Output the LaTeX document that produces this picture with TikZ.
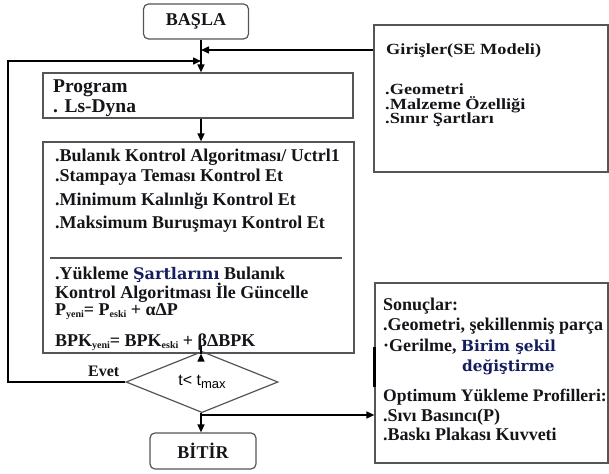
\documentclass[tikz,border=0pt]{standalone}
\usepackage{fontspec}
\setmainfont{Liberation Serif}
\setsansfont{Liberation Sans}
\newfontfamily\gfont[FakeStretch=1.18]{Liberation Serif}
\newfontfamily\cfont{DejaVu Serif}
\usetikzlibrary{arrows.meta,shapes.geometric}
\newcommand\fsz[1]{\fontsize{#1}{#1}\selectfont}
\newcommand\sbs[1]{\raisebox{-2.5pt}{\fsz{10}#1}}
\definecolor{boxgray}{RGB}{85,85,85}
\definecolor{navy}{RGB}{20,30,95}
\definecolor{inktext}{RGB}{20,20,25}
\begin{document}
\begin{tikzpicture}[x=1pt,y=-1pt,
  box/.style={draw=boxgray, line width=1.2pt, inner sep=0pt},
  rbox/.style={box, rounded corners=5pt, font=\bfseries\fsz{18}, text=inktext},
  conn/.style={draw=black, line width=1.5pt, -{Triangle[length=8pt,width=7pt]}},
  plain/.style={draw=black, line width=1.5pt},
  txt/.style={anchor=base west, inner sep=0pt, font=\bfseries\fsz{18}, text=inktext},
  gtxt/.style={anchor=base west, inner sep=0pt, font=\gfont\bfseries\fsz{15.5}, text=inktext}]
\useasboundingbox (0,0) rectangle (609,473);

% boxes
\node[rbox, minimum width=105pt, minimum height=35pt] (basla) at (196,21.5) {BAŞLA};
\node[box, minimum width=310pt, minimum height=45pt] (prog) at (198,95.5) {};
\node[box, minimum width=311pt, minimum height=211pt] (main) at (198.5,247.5) {};
\node[box, diamond, draw=boxgray, minimum width=152pt, minimum height=38pt, font=\sffamily\fsz{16}] (dec) at (202,382) {t< t\raisebox{-3.5pt}{\fsz{13}max}};
\node[rbox, minimum width=106pt, minimum height=36pt] (bitir) at (203,451) {BİTİR};
\node[box, minimum width=234pt, minimum height=147pt] (gir) at (491,98.5) {};
\node[box, minimum width=233pt, minimum height=180pt] (son) at (491.5,373) {};
\draw[draw=black, line width=2.4pt] ([yshift=-65pt]son.north west) -- ([yshift=-105pt]son.north west);

% junction coordinates
\coordinate (j1) at (201,50);
\coordinate (j2) at (201,61);
\coordinate (lp) at (8,61);
\coordinate (j3) at (201,415);
\coordinate (trunk) at (201,0);

% connectors
\draw[plain] (basla.south -| trunk) -- (j2);
\draw[conn] (j2) -- (prog.north -| trunk);
\draw[conn] (j1 -| gir.west) -- (j1);
\draw[conn] (dec.west) -| (lp) -- (j2);
\draw[conn] (prog.south -| trunk) -- (main.north -| trunk);
\draw[conn] (main.south -| trunk) -- (main.south -| trunk |- dec.north);
\draw[conn] (dec.south -| trunk) -- (bitir.north -| trunk);
\draw[conn] (j3) -- (j3 -| son.west);

% separator in main box
\draw[draw=boxgray, line width=1.2pt] (50,258) -- (342,258);

% program box text
\node[txt, font=\bfseries\fsz{19.5}] (p1) at (53,92.5) {Program};
\node[txt, font=\bfseries\fsz{19.5}] (p2) at (53,113) {. Ls-Dyna};

% main box text
\node[txt] (m1) at (55,161.5) {.Bulanık Kontrol Algoritması/ Uctrl1};
\node[txt] (m2) at (55,181.5) {.Stampaya Teması Kontrol Et};
\node[txt] (m3) at (55,205) {.Minimum Kalınlığı Kontrol Et};
\node[txt] (m4) at (55,228.5) {.Maksimum Buruşmayı Kontrol Et};
\node[txt] (m5) at (55,279) {.Yükleme {\cfont\fsz{16}\color{navy}Şartlarını} Bulanık};
\node[txt] (m6) at (55,298) {Kontrol Algoritması İle Güncelle};
\node[txt] (m7) at (55,315) {P\sbs{yeni}= P\sbs{eski} + αΔP};
\node[txt] (m8) at (55,346) {BPK\sbs{yeni}= BPK\sbs{eski} + βΔBPK};

% Evet label
\node[txt, font=\bfseries\fsz{16}] (evet) at (88,376) {Evet};

% inputs box text
\node[gtxt] (g1) at (386,55) {Girişler(SE Modeli)};
\node[gtxt] (g2) at (385,95) {.Geometri};
\node[gtxt] (g3) at (385,110) {.Malzeme Özelliği};
\node[gtxt] (g4) at (385,124) {.Sınır Şartları};

% results box text
\node[txt] (s1) at (383,310) {Sonuçlar:};
\node[txt] (s2) at (383,330) {.Geometri, şekillenmiş parça};
\node[txt] (s3) at (383,351.5) {·Gerilme, {\cfont\fsz{15.3}\color{navy}Birim şekil}};
\node[txt, font=\cfont\bfseries\fsz{15.3}, text=navy] (s4) at (462,371.5) {değiştirme};
\node[txt, font=\bfseries\fsz{17.6}] (s5) at (383,401.5) {Optimum Yükleme Profilleri:};
\node[txt] (s6) at (383,421.5) {.Sıvı Basıncı(P)};
\node[txt] (s7) at (383,440) {.Baskı Plakası Kuvveti};
\end{tikzpicture}
\end{document}
